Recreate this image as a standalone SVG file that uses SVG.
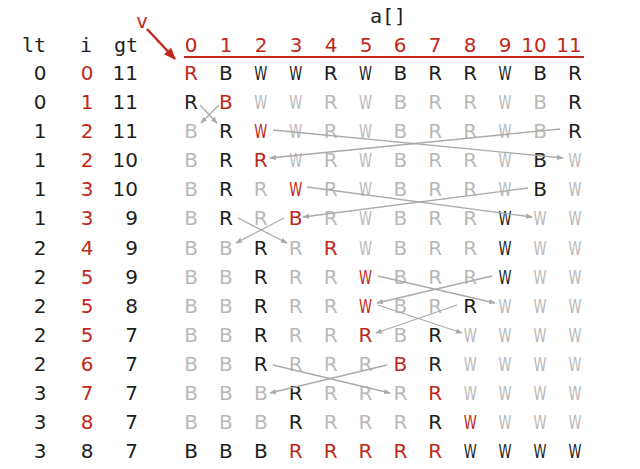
<svg xmlns="http://www.w3.org/2000/svg" width="640" height="469" viewBox="0 0 640 469">
<style>
text{font-family:"DejaVu Sans","Liberation Sans",sans-serif;font-size:20px;text-anchor:middle}
.m{font-family:"DejaVu Sans Mono","Liberation Mono",monospace}
.k{fill:#1e1e1e}.g{fill:#b9b9b9}.r{fill:#c0281a}
.e{text-anchor:end}
.c line{stroke:#aaaaaa;stroke-width:1.3;fill:none;marker-end:url(#ah)}
</style>
<defs>
<marker id="ah" markerUnits="userSpaceOnUse" markerWidth="7" markerHeight="5.25" refX="7" refY="3" orient="auto" viewBox="0 0 8 6"><path d="M0,0L8,3L0,6z" fill="#aaaaaa"/></marker>
<marker id="ahr" markerUnits="userSpaceOnUse" markerWidth="12" markerHeight="10" refX="10" refY="4.5" orient="auto" viewBox="0 0 11 9"><path d="M0,0L11,4.5L0,9z" fill="#c0281a"/></marker>
</defs>
<g id="header">
<text class="m k" x="388" y="22.7">a[]</text>
<text class="m r" x="142" y="28">v</text>
<text class="m k" x="34" y="52">lt</text>
<text class="m k" x="86" y="52">i</text>
<text class="m k" x="126" y="52">gt</text>
<g class="r"><text x="191" y="52">0</text><text x="226" y="52">1</text><text x="261" y="52">2</text><text x="296" y="52">3</text><text x="331" y="52">4</text><text x="366" y="52">5</text><text x="400" y="52">6</text><text x="435" y="52">7</text><text x="470" y="52">8</text><text x="505" y="52">9</text><text x="534" y="52">10</text><text x="569" y="52">11</text></g>
<line x1="184" y1="57" x2="584" y2="57" stroke="#c0281a" stroke-width="2"/>
<line x1="147" y1="29" x2="175" y2="59" stroke="#c0281a" stroke-width="2.5" marker-end="url(#ahr)"/>
</g>
<g id="vars">
<g class="k"><text x="40" y="80">0</text><text x="40" y="109.1">0</text><text x="40" y="138.2">1</text><text x="40" y="167.2">1</text><text x="40" y="196.3">1</text><text x="40" y="225.4">1</text><text x="40" y="254.5">2</text><text x="40" y="283.6">2</text><text x="40" y="312.6">2</text><text x="40" y="341.7">2</text><text x="40" y="370.8">2</text><text x="40" y="399.9">3</text><text x="40" y="429">3</text><text x="40" y="458">3</text></g>
<g class="r"><text x="87" y="80">0</text><text x="87" y="109.1">1</text><text x="87" y="138.2">2</text><text x="87" y="167.2">2</text><text x="87" y="196.3">3</text><text x="87" y="225.4">3</text><text x="87" y="254.5">4</text><text x="87" y="283.6">5</text><text x="87" y="312.6">5</text><text x="87" y="341.7">5</text><text x="87" y="370.8">6</text><text x="87" y="399.9">7</text><text x="87" y="429">8</text></g>
<text class="k" x="87" y="458">8</text>
<g class="k e"><text class="e" x="138" y="80">11</text><text class="e" x="138" y="109.1">11</text><text class="e" x="138" y="138.2">11</text><text class="e" x="138" y="167.2">10</text><text class="e" x="138" y="196.3">10</text><text class="e" x="138" y="225.4">9</text><text class="e" x="138" y="254.5">9</text><text class="e" x="138" y="283.6">9</text><text class="e" x="138" y="312.6">8</text><text class="e" x="138" y="341.7">7</text><text class="e" x="138" y="370.8">7</text><text class="e" x="138" y="399.9">7</text><text class="e" x="138" y="429">7</text><text class="e" x="138" y="458">7</text></g>
</g>
<g id="row0"><text class="r" x="191" y="80">R</text><text class="k" x="225.9" y="80">B</text><text class="k" x="260.8" y="80" textLength="13" lengthAdjust="spacingAndGlyphs">W</text><text class="k" x="295.7" y="80" textLength="13" lengthAdjust="spacingAndGlyphs">W</text><text class="k" x="330.6" y="80">R</text><text class="k" x="365.5" y="80" textLength="13" lengthAdjust="spacingAndGlyphs">W</text><text class="k" x="400.4" y="80">B</text><text class="k" x="435.3" y="80">R</text><text class="k" x="470.2" y="80">R</text><text class="k" x="505.1" y="80" textLength="13" lengthAdjust="spacingAndGlyphs">W</text><text class="k" x="540" y="80">B</text><text class="k" x="574.9" y="80">R</text></g>
<g id="row1"><text class="k" x="191" y="109.1">R</text><text class="r" x="225.9" y="109.1">B</text><text class="g" x="260.8" y="109.1" textLength="13" lengthAdjust="spacingAndGlyphs">W</text><text class="g" x="295.7" y="109.1" textLength="13" lengthAdjust="spacingAndGlyphs">W</text><text class="g" x="330.6" y="109.1">R</text><text class="g" x="365.5" y="109.1" textLength="13" lengthAdjust="spacingAndGlyphs">W</text><text class="g" x="400.4" y="109.1">B</text><text class="g" x="435.3" y="109.1">R</text><text class="g" x="470.2" y="109.1">R</text><text class="g" x="505.1" y="109.1" textLength="13" lengthAdjust="spacingAndGlyphs">W</text><text class="g" x="540" y="109.1">B</text><text class="k" x="574.9" y="109.1">R</text></g>
<g id="row2"><text class="g" x="191" y="138.2">B</text><text class="k" x="225.9" y="138.2">R</text><text class="r" x="260.8" y="138.2" textLength="13" lengthAdjust="spacingAndGlyphs">W</text><text class="g" x="295.7" y="138.2" textLength="13" lengthAdjust="spacingAndGlyphs">W</text><text class="g" x="330.6" y="138.2">R</text><text class="g" x="365.5" y="138.2" textLength="13" lengthAdjust="spacingAndGlyphs">W</text><text class="g" x="400.4" y="138.2">B</text><text class="g" x="435.3" y="138.2">R</text><text class="g" x="470.2" y="138.2">R</text><text class="g" x="505.1" y="138.2" textLength="13" lengthAdjust="spacingAndGlyphs">W</text><text class="g" x="540" y="138.2">B</text><text class="k" x="574.9" y="138.2">R</text></g>
<g id="row3"><text class="g" x="191" y="167.2">B</text><text class="k" x="225.9" y="167.2">R</text><text class="r" x="260.8" y="167.2">R</text><text class="g" x="295.7" y="167.2" textLength="13" lengthAdjust="spacingAndGlyphs">W</text><text class="g" x="330.6" y="167.2">R</text><text class="g" x="365.5" y="167.2" textLength="13" lengthAdjust="spacingAndGlyphs">W</text><text class="g" x="400.4" y="167.2">B</text><text class="g" x="435.3" y="167.2">R</text><text class="g" x="470.2" y="167.2">R</text><text class="g" x="505.1" y="167.2" textLength="13" lengthAdjust="spacingAndGlyphs">W</text><text class="k" x="540" y="167.2">B</text><text class="g" x="574.9" y="167.2" textLength="13" lengthAdjust="spacingAndGlyphs">W</text></g>
<g id="row4"><text class="g" x="191" y="196.3">B</text><text class="k" x="225.9" y="196.3">R</text><text class="g" x="260.8" y="196.3">R</text><text class="r" x="295.7" y="196.3" textLength="13" lengthAdjust="spacingAndGlyphs">W</text><text class="g" x="330.6" y="196.3">R</text><text class="g" x="365.5" y="196.3" textLength="13" lengthAdjust="spacingAndGlyphs">W</text><text class="g" x="400.4" y="196.3">B</text><text class="g" x="435.3" y="196.3">R</text><text class="g" x="470.2" y="196.3">R</text><text class="g" x="505.1" y="196.3" textLength="13" lengthAdjust="spacingAndGlyphs">W</text><text class="k" x="540" y="196.3">B</text><text class="g" x="574.9" y="196.3" textLength="13" lengthAdjust="spacingAndGlyphs">W</text></g>
<g id="row5"><text class="g" x="191" y="225.4">B</text><text class="k" x="225.9" y="225.4">R</text><text class="g" x="260.8" y="225.4">R</text><text class="r" x="295.7" y="225.4">B</text><text class="g" x="330.6" y="225.4">R</text><text class="g" x="365.5" y="225.4" textLength="13" lengthAdjust="spacingAndGlyphs">W</text><text class="g" x="400.4" y="225.4">B</text><text class="g" x="435.3" y="225.4">R</text><text class="g" x="470.2" y="225.4">R</text><text class="k" x="505.1" y="225.4" textLength="13" lengthAdjust="spacingAndGlyphs">W</text><text class="g" x="540" y="225.4" textLength="13" lengthAdjust="spacingAndGlyphs">W</text><text class="g" x="574.9" y="225.4" textLength="13" lengthAdjust="spacingAndGlyphs">W</text></g>
<g id="row6"><text class="g" x="191" y="254.5">B</text><text class="g" x="225.9" y="254.5">B</text><text class="k" x="260.8" y="254.5">R</text><text class="g" x="295.7" y="254.5">R</text><text class="r" x="330.6" y="254.5">R</text><text class="g" x="365.5" y="254.5" textLength="13" lengthAdjust="spacingAndGlyphs">W</text><text class="g" x="400.4" y="254.5">B</text><text class="g" x="435.3" y="254.5">R</text><text class="g" x="470.2" y="254.5">R</text><text class="k" x="505.1" y="254.5" textLength="13" lengthAdjust="spacingAndGlyphs">W</text><text class="g" x="540" y="254.5" textLength="13" lengthAdjust="spacingAndGlyphs">W</text><text class="g" x="574.9" y="254.5" textLength="13" lengthAdjust="spacingAndGlyphs">W</text></g>
<g id="row7"><text class="g" x="191" y="283.6">B</text><text class="g" x="225.9" y="283.6">B</text><text class="k" x="260.8" y="283.6">R</text><text class="g" x="295.7" y="283.6">R</text><text class="g" x="330.6" y="283.6">R</text><text class="r" x="365.5" y="283.6" textLength="13" lengthAdjust="spacingAndGlyphs">W</text><text class="g" x="400.4" y="283.6">B</text><text class="g" x="435.3" y="283.6">R</text><text class="g" x="470.2" y="283.6">R</text><text class="k" x="505.1" y="283.6" textLength="13" lengthAdjust="spacingAndGlyphs">W</text><text class="g" x="540" y="283.6" textLength="13" lengthAdjust="spacingAndGlyphs">W</text><text class="g" x="574.9" y="283.6" textLength="13" lengthAdjust="spacingAndGlyphs">W</text></g>
<g id="row8"><text class="g" x="191" y="312.6">B</text><text class="g" x="225.9" y="312.6">B</text><text class="k" x="260.8" y="312.6">R</text><text class="g" x="295.7" y="312.6">R</text><text class="g" x="330.6" y="312.6">R</text><text class="r" x="365.5" y="312.6" textLength="13" lengthAdjust="spacingAndGlyphs">W</text><text class="g" x="400.4" y="312.6">B</text><text class="g" x="435.3" y="312.6">R</text><text class="k" x="470.2" y="312.6">R</text><text class="g" x="505.1" y="312.6" textLength="13" lengthAdjust="spacingAndGlyphs">W</text><text class="g" x="540" y="312.6" textLength="13" lengthAdjust="spacingAndGlyphs">W</text><text class="g" x="574.9" y="312.6" textLength="13" lengthAdjust="spacingAndGlyphs">W</text></g>
<g id="row9"><text class="g" x="191" y="341.7">B</text><text class="g" x="225.9" y="341.7">B</text><text class="k" x="260.8" y="341.7">R</text><text class="g" x="295.7" y="341.7">R</text><text class="g" x="330.6" y="341.7">R</text><text class="r" x="365.5" y="341.7">R</text><text class="g" x="400.4" y="341.7">B</text><text class="k" x="435.3" y="341.7">R</text><text class="g" x="470.2" y="341.7" textLength="13" lengthAdjust="spacingAndGlyphs">W</text><text class="g" x="505.1" y="341.7" textLength="13" lengthAdjust="spacingAndGlyphs">W</text><text class="g" x="540" y="341.7" textLength="13" lengthAdjust="spacingAndGlyphs">W</text><text class="g" x="574.9" y="341.7" textLength="13" lengthAdjust="spacingAndGlyphs">W</text></g>
<g id="row10"><text class="g" x="191" y="370.8">B</text><text class="g" x="225.9" y="370.8">B</text><text class="k" x="260.8" y="370.8">R</text><text class="g" x="295.7" y="370.8">R</text><text class="g" x="330.6" y="370.8">R</text><text class="g" x="365.5" y="370.8">R</text><text class="r" x="400.4" y="370.8">B</text><text class="k" x="435.3" y="370.8">R</text><text class="g" x="470.2" y="370.8" textLength="13" lengthAdjust="spacingAndGlyphs">W</text><text class="g" x="505.1" y="370.8" textLength="13" lengthAdjust="spacingAndGlyphs">W</text><text class="g" x="540" y="370.8" textLength="13" lengthAdjust="spacingAndGlyphs">W</text><text class="g" x="574.9" y="370.8" textLength="13" lengthAdjust="spacingAndGlyphs">W</text></g>
<g id="row11"><text class="g" x="191" y="399.9">B</text><text class="g" x="225.9" y="399.9">B</text><text class="g" x="260.8" y="399.9">B</text><text class="k" x="295.7" y="399.9">R</text><text class="g" x="330.6" y="399.9">R</text><text class="g" x="365.5" y="399.9">R</text><text class="g" x="400.4" y="399.9">R</text><text class="r" x="435.3" y="399.9">R</text><text class="g" x="470.2" y="399.9" textLength="13" lengthAdjust="spacingAndGlyphs">W</text><text class="g" x="505.1" y="399.9" textLength="13" lengthAdjust="spacingAndGlyphs">W</text><text class="g" x="540" y="399.9" textLength="13" lengthAdjust="spacingAndGlyphs">W</text><text class="g" x="574.9" y="399.9" textLength="13" lengthAdjust="spacingAndGlyphs">W</text></g>
<g id="row12"><text class="g" x="191" y="429">B</text><text class="g" x="225.9" y="429">B</text><text class="g" x="260.8" y="429">B</text><text class="k" x="295.7" y="429">R</text><text class="g" x="330.6" y="429">R</text><text class="g" x="365.5" y="429">R</text><text class="g" x="400.4" y="429">R</text><text class="k" x="435.3" y="429">R</text><text class="r" x="470.2" y="429" textLength="13" lengthAdjust="spacingAndGlyphs">W</text><text class="g" x="505.1" y="429" textLength="13" lengthAdjust="spacingAndGlyphs">W</text><text class="g" x="540" y="429" textLength="13" lengthAdjust="spacingAndGlyphs">W</text><text class="g" x="574.9" y="429" textLength="13" lengthAdjust="spacingAndGlyphs">W</text></g>
<g id="row13"><text class="k" x="191" y="458">B</text><text class="k" x="225.9" y="458">B</text><text class="k" x="260.8" y="458">B</text><text class="r" x="295.7" y="458">R</text><text class="r" x="330.6" y="458">R</text><text class="r" x="365.5" y="458">R</text><text class="r" x="400.4" y="458">R</text><text class="r" x="435.3" y="458">R</text><text class="k" x="470.2" y="458" textLength="13" lengthAdjust="spacingAndGlyphs">W</text><text class="k" x="505.1" y="458" textLength="13" lengthAdjust="spacingAndGlyphs">W</text><text class="k" x="540" y="458" textLength="13" lengthAdjust="spacingAndGlyphs">W</text><text class="k" x="574.9" y="458" textLength="13" lengthAdjust="spacingAndGlyphs">W</text></g>
<g id="connectors" class="c">
<line x1="200" y1="105" x2="217" y2="123"/>
<line x1="219" y1="105" x2="201" y2="123"/>
<line x1="273" y1="130" x2="563" y2="158"/>
<line x1="560" y1="129" x2="270" y2="158"/>
<line x1="307" y1="187" x2="532" y2="217"/>
<line x1="528" y1="188" x2="303" y2="217"/>
<line x1="238" y1="218" x2="287" y2="243"/>
<line x1="284" y1="218" x2="236" y2="243"/>
<line x1="378" y1="276" x2="495" y2="303"/>
<line x1="492" y1="276" x2="377" y2="303"/>
<line x1="378" y1="305" x2="462" y2="333"/>
<line x1="457" y1="305" x2="376" y2="333"/>
<line x1="273" y1="365" x2="390" y2="393"/>
<line x1="387" y1="365" x2="270" y2="393"/>
</g>
</svg>
